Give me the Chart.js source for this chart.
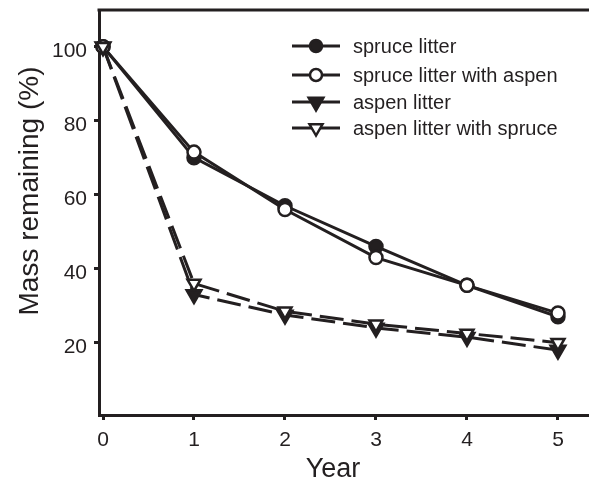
<!DOCTYPE html>
<html>
<head>
<meta charset="utf-8">
<script src="https://cdn.jsdelivr.net/npm/chart.js@4"></script>
<style>
  html, body { margin: 0; padding: 0; background: #fff; }
  #wrap { width: 589px; height: 481px; }
</style>
</head>
<body>
<div id="wrap"><canvas id="c" width="589" height="481"></canvas></div>
<script>
// values
var YEARS = [0, 1, 2, 3, 4, 5];
var SPRUCE        = [100, 70, 57, 46, 35.5, 27];
var SPRUCE_ASPEN  = [100, 71.5, 56, 43, 35.5, 28];
var ASPEN         = [100, 33, 27.5, 24, 21.5, 18];
var ASPEN_SPRUCE  = [100, 36, 28.5, 25, 22.5, 20];
var SERIES_NAMES = ['spruce litter', 'spruce litter with aspen', 'aspen litter', 'aspen litter with spruce'];
var X_TICKS = [0, 1, 2, 3, 4, 5];
var Y_TICKS = [20, 40, 60, 80, 100];

var INK = '#231f20';
var FONT = "'Liberation Sans', Arial, sans-serif";

function pts(vals) {
  return YEARS.map(function(x, i) { return { x: x, y: vals[i] }; });
}

function ds(label, vals, opts) {
  var d = {
    label: label,
    data: pts(vals),
    borderColor: INK,
    borderWidth: 3,
    pointBorderColor: INK,
    pointBorderWidth: 2.5,
    clip: false,
    tension: 0,
  };
  Object.keys(opts).forEach(function(k) { d[k] = opts[k]; });
  return d;
}

var DASH = [24, 8];

var datasets = [
  ds(SERIES_NAMES[0], SPRUCE,       { pointStyle: 'circle', pointRadius: 6.5, pointBackgroundColor: INK, order: 3 }),
  ds(SERIES_NAMES[1], SPRUCE_ASPEN, { pointStyle: 'circle', pointRadius: 6.5, pointBackgroundColor: '#fff', order: 1 }),
  ds(SERIES_NAMES[2], ASPEN,        { pointStyle: 'triangle', pointRotation: 180, pointRadius: 8.5, pointBackgroundColor: INK, borderDash: DASH, order: 2 }),
  ds(SERIES_NAMES[3], ASPEN_SPRUCE, { pointStyle: 'triangle', pointRotation: 180, pointRadius: 7.5, pointBackgroundColor: '#fff', borderDash: DASH, order: 0 }),
];

// top frame line, axis titles and the line+marker legend
var decor = {
  id: 'decor',
  afterDraw: function(chart) {
    var ctx = chart.ctx, a = chart.chartArea;
    ctx.save();
    ctx.strokeStyle = INK;
    ctx.lineWidth = 3;
    ctx.beginPath();
    ctx.moveTo(a.left - 1.5, a.top);
    ctx.lineTo(a.right, a.top);
    ctx.stroke();

    ctx.fillStyle = INK;
    ctx.font = '27px ' + FONT;
    ctx.textAlign = 'center';
    ctx.textBaseline = 'alphabetic';
    ctx.fillText('Year', 333, 477);

    ctx.save();
    ctx.font = '28px ' + FONT;
    ctx.translate(38, 191);
    ctx.rotate(-Math.PI / 2);
    ctx.fillText('Mass remaining (%)', 0, 0);
    ctx.restore();

    var rows = [46, 75, 102, 128];
    ctx.font = '20px ' + FONT;
    ctx.textAlign = 'left';
    ctx.textBaseline = 'middle';
    chart.data.datasets.forEach(function(d, i) {
      var y = rows[i];
      ctx.strokeStyle = INK;
      ctx.lineWidth = 3;
      ctx.setLineDash([]);
      ctx.beginPath();
      ctx.moveTo(292, y);
      ctx.lineTo(340, y);
      ctx.stroke();
      ctx.fillStyle = d.pointBackgroundColor;
      ctx.lineWidth = 2.5;
      ctx.beginPath();
      if (d.pointStyle === 'circle') {
        ctx.arc(316, y, 6, 0, Math.PI * 2);
      } else {
        var r = d.pointRadius;
        ctx.moveTo(316, y + r);
        ctx.lineTo(316 - r * 0.866, y - r / 2);
        ctx.lineTo(316 + r * 0.866, y - r / 2);
        ctx.closePath();
      }
      ctx.fill();
      ctx.stroke();
      ctx.fillStyle = INK;
      ctx.fillText(d.label, 353, y + 1);
    });
    ctx.restore();
  }
};

new Chart(document.getElementById('c'), {
  type: 'line',
  data: { datasets: datasets },
  plugins: [decor],
  options: {
    responsive: false,
    animation: false,
    layout: { autoPadding: false, padding: { top: 10, right: 0, bottom: 0, left: 0 } },
    plugins: { legend: { display: false }, tooltip: { enabled: false } },
    scales: {
      x: {
        type: 'linear',
        min: -0.044,
        max: 5.341,
        afterFit: function(s) { s.height = 66; s.paddingLeft = 0; s.paddingRight = 0; },
        afterBuildTicks: function(s) { s.ticks = X_TICKS.map(function(v) { return { value: v }; }); },
        border: { display: true, color: INK, width: 3 },
        grid: { display: true, drawOnChartArea: false, drawTicks: true, tickLength: 5, tickWidth: 3, tickColor: INK },
        ticks: { color: INK, font: { family: FONT, size: 21 }, padding: 8 },
      },
      y: {
        type: 'linear',
        min: 0.46,
        max: 109.9,
        afterFit: function(s) { s.width = 99; s.paddingTop = 0; s.paddingBottom = 0; },
        afterBuildTicks: function(s) { s.ticks = Y_TICKS.map(function(v) { return { value: v }; }); },
        border: { display: true, color: INK, width: 3 },
        grid: { display: true, drawOnChartArea: false, drawTicks: true, tickLength: 5, tickWidth: 3, tickColor: INK },
        ticks: { color: INK, font: { family: FONT, size: 21 }, padding: 7, labelOffset: 5 },
      },
    },
  },
});
</script>
</body>
</html>
